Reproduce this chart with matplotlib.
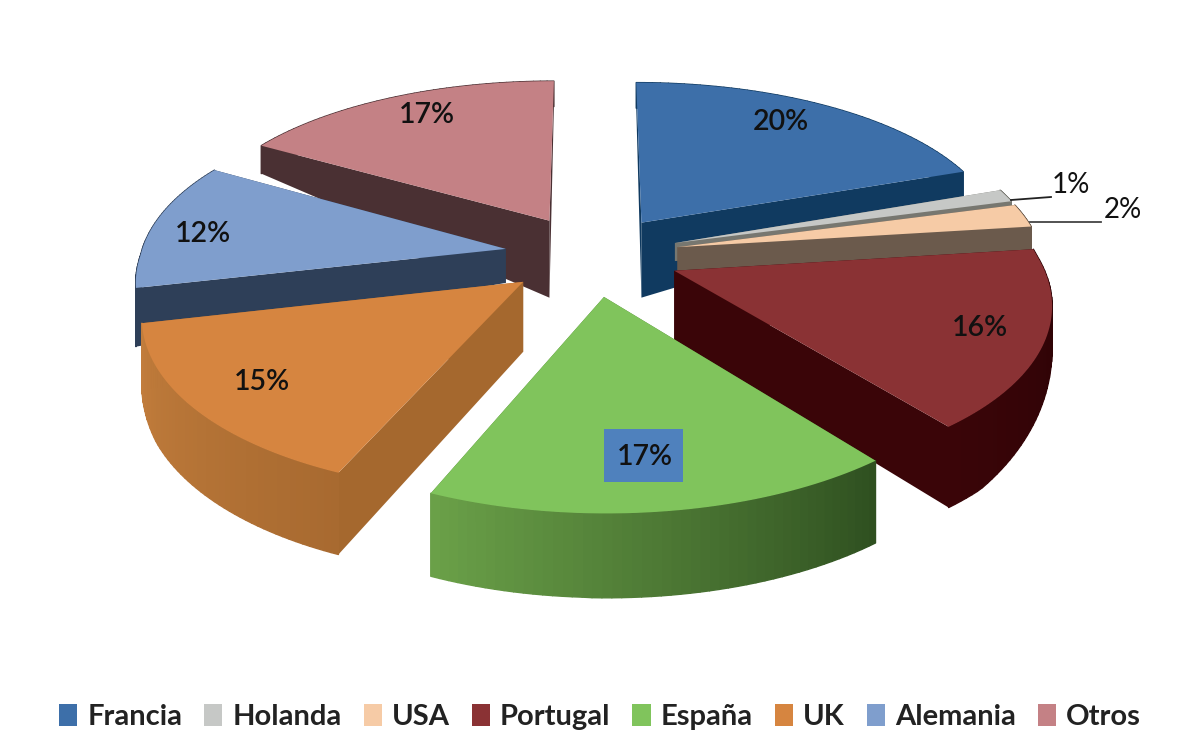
import numpy as np
import matplotlib
matplotlib.use("Agg")
import matplotlib.pyplot as plt
from matplotlib.collections import PolyCollection
from matplotlib.colors import to_rgb
from matplotlib.patches import Patch, Rectangle

categories = ["Francia", "Holanda", "USA", "Portugal", "España", "UK", "Alemania", "Otros"]
values = [19.6, 1.2, 2.2, 16.4, 17.0, 15.0, 12.0, 16.6]
labels = ["20%", "1%", "2%", "16%", "17%", "15%", "12%", "17%"]
top_colors = ["#3d6fa9", "#c6c8c6", "#f6cba6", "#8a3234", "#80c45c", "#d68540", "#7f9ecd", "#c48185"]
cut_colors = ["#103a60", "#777770", "#6b5a4c", "#3a0508", "#4a7a30", "#a5682e", "#2e3f58", "#4a3033"]
rim_left = ["#103a60", "#777770", "#6b5a4c", "#3a0508", "#6aa048", "#c27d3c", "#2e3f58", "#4a3033"]
rim_right = ["#103a60", "#777770", "#6b5a4c", "#2a0205", "#2f5020", "#a86a30", "#2e3f58", "#4a3033"]
apex_depth = [75, 18, 26, 70, 70, 70, 34, 77]
draw_order = [7, 0, 1, 2, 6, 3, 5, 4]

CX, CY, A, B, K, EXPL = 592, 255, 365, 170, 0.15, 0.24
KX_FRONT, KX_BACK = 0.16, 0.12


def proj(X, Y):
    Y = np.asarray(Y, dtype=float)
    wx = 1 + np.where(Y < 0, KX_FRONT, KX_BACK) * Y
    return CX + A * X / wx, CY - B * Y / (1 + K * Y)


def rim_depth(X, Y):
    left = np.interp(Y, [-1.3, -0.6, -0.2, 0.05, 0.7, 1.3], [85, 75, 60, 33, 28, 25])
    right = np.interp(Y, [-1.3, -0.8, -0.2, 0.05, 0.7, 1.3], [85, 80, 35, 33, 28, 25])
    return np.where(X < 0, left, right)


fig = plt.figure(figsize=(11.84, 7.54), dpi=100)
ax = fig.add_axes([0, 0, 1, 1])
ax.set_xlim(0, 1184)
ax.set_ylim(754, 0)
ax.axis("off")

edges = np.cumsum([0] + values) / sum(values) * 2 * np.pi
for order, i in enumerate(draw_order):
    z = 2 + order
    a0, a1 = edges[i], edges[i + 1]
    mid = (a0 + a1) / 2
    ox, oy = EXPL * np.sin(mid), EXPL * np.cos(mid)
    t = np.linspace(a0, a1, 50)
    rx, ry = ox + np.sin(t), oy + np.cos(t)
    sx, sy = proj(rx, ry)
    d = rim_depth(rx, ry)
    ax0, ay0 = proj(ox, oy)
    ad = apex_depth[i]
    # radial cut walls
    ax.fill([ax0, sx[0], sx[0], ax0], [ay0, sy[0], sy[0] + d[0], ay0 + ad], color=cut_colors[i], lw=0, zorder=z)
    ax.fill([ax0, sx[-1], sx[-1], ax0], [ay0, sy[-1], sy[-1] + d[-1], ay0 + ad], color=cut_colors[i], lw=0, zorder=z)
    # rim wall with gradient
    quads = [[(sx[j], sy[j]), (sx[j + 1], sy[j + 1]), (sx[j + 1], sy[j + 1] + d[j + 1]), (sx[j], sy[j] + d[j])]
             for j in range(len(t) - 1)]
    c0, c1 = np.array(to_rgb(rim_left[i])), np.array(to_rgb(rim_right[i]))
    f = np.linspace(0, 1, len(quads))[:, None]
    cols = c0 * f + c1 * (1 - f)
    ax.add_collection(PolyCollection(quads, facecolors=cols, edgecolors=cols, linewidths=1.0, zorder=z))
    ax.fill(np.r_[ax0, sx], np.r_[ay0, sy], color=top_colors[i], lw=0, zorder=z)

font = "Lato"
label_pos = [(781, 122), None, None, (980, 328), (645, 457), (262, 382), (203, 234), (427, 115)]
ax.add_patch(Rectangle((604, 429), 79, 53, color="#4f81bd", lw=0, zorder=30))
for i, p in enumerate(label_pos):
    if p is not None:
        ax.text(p[0], p[1], labels[i], ha="center", va="center", fontsize=20.5, family=font,
                weight="semibold", color="#111", zorder=40)
ax.plot([1011, 1051], [200, 197], color="#222", lw=1.3, zorder=35)
ax.plot([1030, 1101], [222, 222], color="#444", lw=1.3, zorder=35)
ax.text(1071, 185, labels[1], ha="center", va="center", fontsize=20, family=font, color="#111", zorder=40)
ax.text(1123, 210, labels[2], ha="center", va="center", fontsize=20, family=font, color="#111", zorder=40)

handles = [Patch(facecolor=c, edgecolor="none") for c in top_colors]
ax.legend(handles, categories, ncol=8, loc="center", bbox_to_anchor=(600 / 1184, 1 - 717 / 754),
          frameon=False, handlelength=0.62, handleheight=0.8, handletextpad=0.35, columnspacing=0.75,
          prop={"family": font, "size": 21, "weight": "bold"}, labelcolor="#222")
fig.savefig("out.png", dpi=100)
